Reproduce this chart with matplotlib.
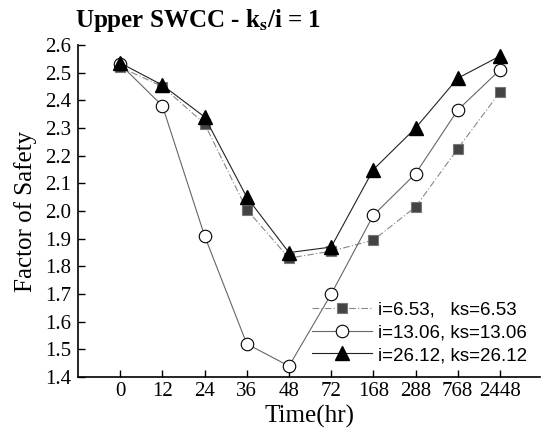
import numpy as np
import matplotlib
matplotlib.use("Agg")
import matplotlib.pyplot as plt

plt.rcParams['mathtext.fontset'] = 'stix'

######### data #########
time_labels = ['0', '12', '24', '36', '48', '72', '168', '288', '768', '2448']
fs_i653 = [2.52, 2.45, 2.315, 2.005, 1.83, 1.855, 1.895, 2.015, 2.225, 2.43]
fs_i1306 = [2.53, 2.38, 1.91, 1.52, 1.44, 1.70, 1.985, 2.135, 2.365, 2.51]
fs_i2612 = [2.535, 2.455, 2.34, 2.05, 1.85, 1.87, 2.15, 2.30, 2.48, 2.56]
legend_labels = ['i=6.53,   ks=6.53', 'i=13.06, ks=13.06', 'i=26.12, ks=26.12']

x = np.arange(len(time_labels))

fig = plt.figure(figsize=(5.46, 4.37), dpi=100)
ax = fig.add_axes([0.143, 0.137, 0.846, 0.760])

ax.plot(x, fs_i653, color='#888888', lw=0.8, ls=(0, (6, 2, 1, 2)),
        marker='s', ms=6.5, mfc='#444444', mec='#777777', mew=0.8, label=legend_labels[0])
ax.plot(x, fs_i1306, color='#666666', lw=0.8,
        marker='o', ms=9, mfc='white', mec='black', mew=0.8, label=legend_labels[1])
ax.plot(x, fs_i2612, color='#222222', lw=0.8,
        marker='^', ms=10, mfc='black', mec='black', label=legend_labels[2])

ax.set_xlim(-1.0, 9.95)
ax.set_ylim(1.4, 2.6)
ax.set_xticks(x)
ax.set_xticklabels(time_labels)
ax.set_yticks(np.arange(1.4, 2.61, 0.1))
ax.set_yticklabels(['%.1f' % v for v in np.arange(1.4, 2.61, 0.1)])

for s in ['top', 'right']:
    ax.spines[s].set_visible(False)
ax.spines['left'].set_linewidth(1.2)
ax.spines['bottom'].set_linewidth(1.2)
ax.tick_params(direction='in', length=5, width=1, labelsize=15)
ax.tick_params(axis='y', pad=5)
for lab in ax.get_xticklabels() + ax.get_yticklabels():
    lab.set_family('Liberation Serif')

ax.set_xlabel('Time(hr)', fontsize=18, family='Liberation Serif', labelpad=3)
ax.set_ylabel('Factor of Safety', fontsize=18, family='Liberation Serif', labelpad=6)
fig.text(0.138, 0.952, r'Upper SWCC - k$_{\mathbf{s}}$/i = 1', fontsize=18, fontweight='bold',
         family='Liberation Serif', ha='left', va='center')

leg = ax.legend(loc='lower right', bbox_to_anchor=(1.0, 0.0), frameon=False,
                prop={'family': 'Liberation Sans', 'size': 13.5}, handlelength=3.2,
                handletextpad=0.3, labelspacing=0.3, borderaxespad=0.3)

fig.savefig('out.png', dpi=100)
